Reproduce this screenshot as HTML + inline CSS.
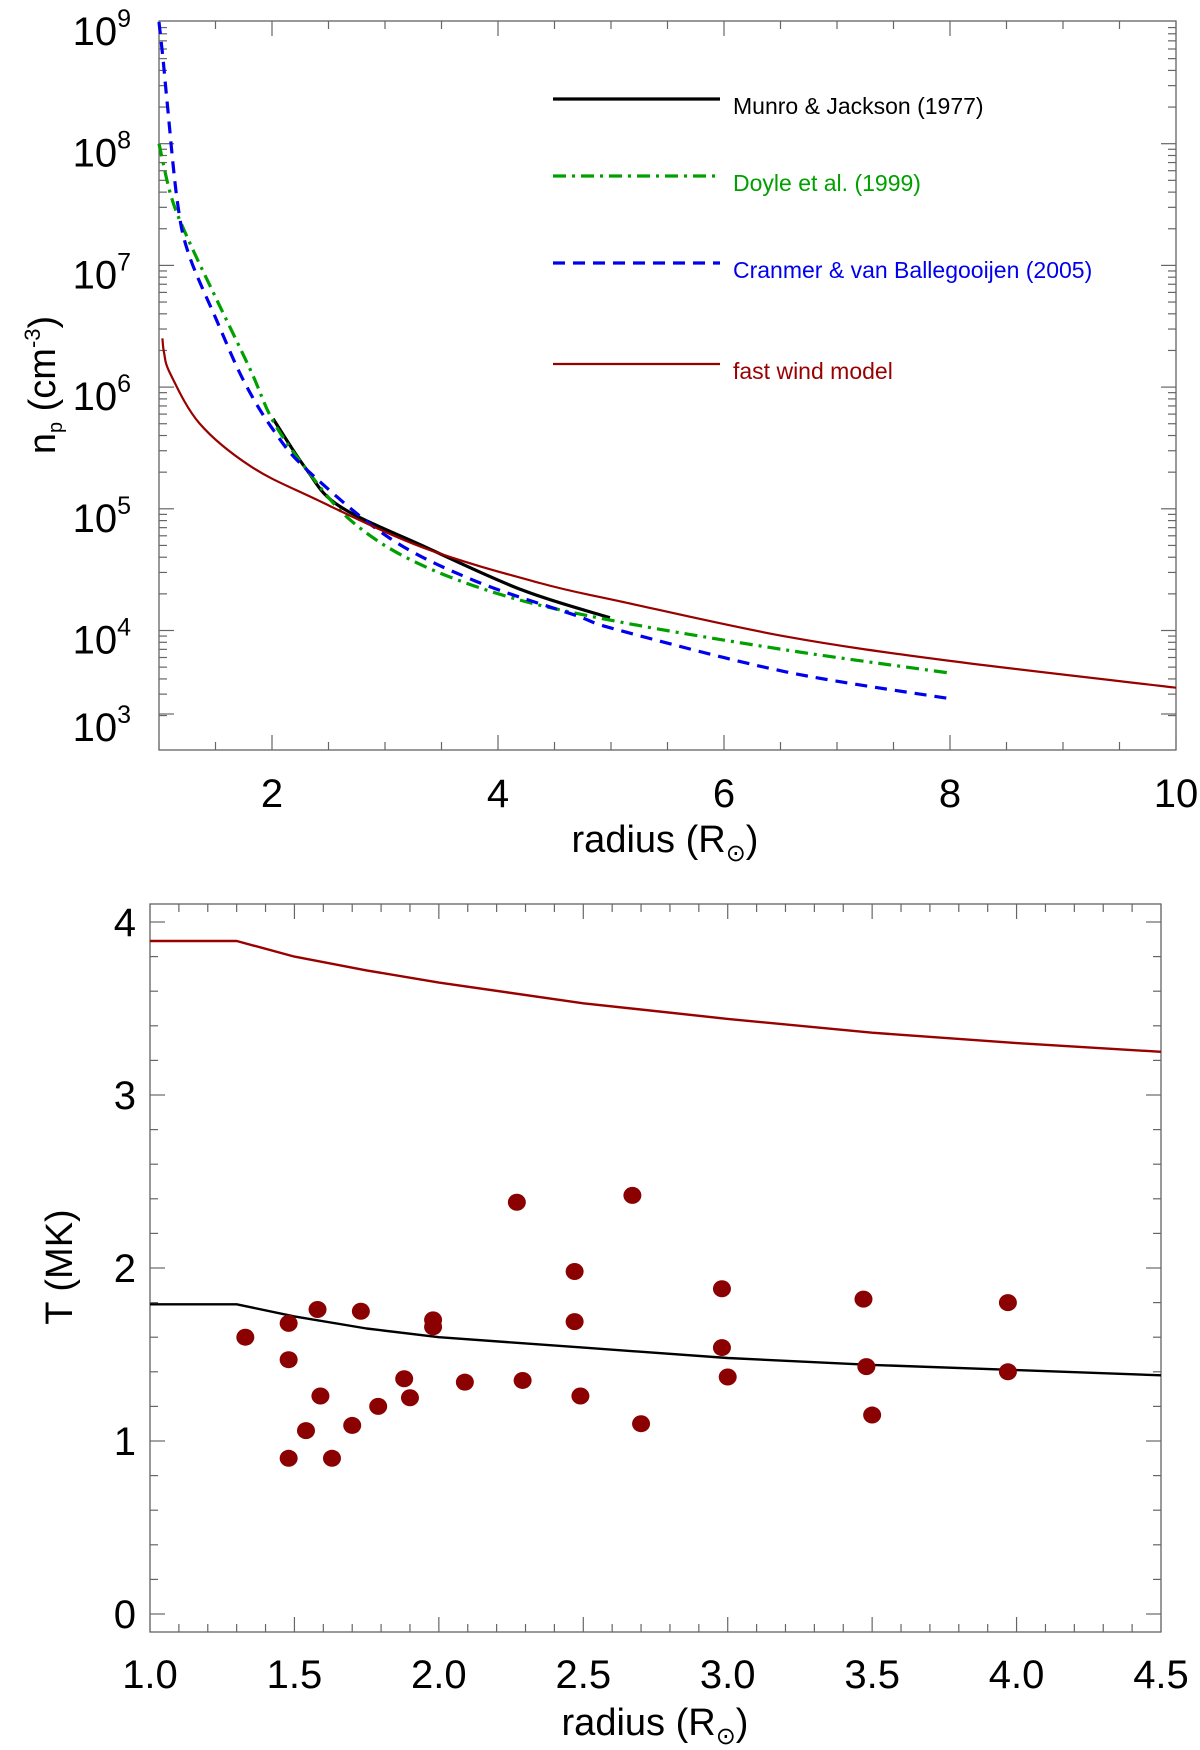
<!DOCTYPE html>
<html><head><meta charset="utf-8">
<style>
html,body{margin:0;padding:0;background:#fff;}
svg{display:block;font-family:"Liberation Sans",sans-serif;}
</style></head>
<body>
<svg id="fig" width="1200" height="1750" viewBox="0 0 1200 1750" xmlns="http://www.w3.org/2000/svg">
<g id="topPanel"></g>
<g id="botPanel"></g>
</svg>
<script>
// ---------- Top panel data (radius, log10 density) ----------
const munroR = [2.01, 2.3, 2.6, 3.37, 4.22, 4.99];
const munroLogN = [5.74, 5.33, 5.02, 4.68, 4.33, 4.105];
const doyleR = [1.0, 1.11, 1.26, 1.51, 1.81, 2.01, 2.3, 2.69, 3.25, 4.08, 5.08, 6.55, 8.0];
const doyleLogN = [8.0, 7.56, 7.21, 6.72, 6.14, 5.72, 5.33, 4.91, 4.57, 4.28, 4.07, 3.84, 3.65];
const cranR = [1.0, 1.035, 1.07, 1.16, 1.26, 1.51, 1.75, 2.01, 2.31, 3.04, 3.79, 4.67, 5.08, 6.55, 8.0];
const cranLogN = [9.0, 8.7, 8.36, 7.54, 7.10, 6.55, 6.05, 5.65, 5.32, 4.76, 4.41, 4.13, 4.00, 3.66, 3.44];
const windR = [1.03, 1.045, 1.10, 1.36, 1.81, 2.36, 3.34, 4.37, 5.08, 6.55, 8.0, 10.0];
const windLogN = [6.40, 6.28, 6.11, 5.70, 5.35, 5.09, 4.68, 4.39, 4.24, 3.95, 3.75, 3.53];
const topXTicks = [2, 4, 6, 8, 10];
const topYTicks = [3, 4, 5, 6, 7, 8, 9];

// ---------- Bottom panel data ----------
const modelHotR = [1.0, 1.3, 1.5, 1.75, 2.0, 2.5, 3.0, 3.5, 4.0, 4.5];
const modelHotT = [3.89, 3.89, 3.80, 3.72, 3.65, 3.53, 3.44, 3.36, 3.30, 3.25];
const modelCoolR = [1.0, 1.3, 1.5, 1.75, 2.0, 2.5, 3.0, 3.5, 4.0, 4.5];
const modelCoolT = [1.79, 1.79, 1.72, 1.65, 1.60, 1.54, 1.48, 1.44, 1.41, 1.38];
const obsR = [1.33,1.48,1.48,1.48,1.58,1.59,1.54,1.63,1.70,1.73,1.79,1.88,1.90,1.98,1.98,2.09,2.27,2.29,2.47,2.47,2.49,2.67,2.70,2.98,2.98,3.00,3.47,3.48,3.50,3.97,3.97];
const obsT = [1.60,1.68,1.47,0.90,1.76,1.26,1.06,0.90,1.09,1.75,1.20,1.36,1.25,1.70,1.66,1.34,2.38,1.35,1.98,1.69,1.26,2.42,1.10,1.88,1.54,1.37,1.82,1.43,1.15,1.80,1.40];
const botXTicks = [1.0, 1.5, 2.0, 2.5, 3.0, 3.5, 4.0, 4.5];
const botYTicks = [0, 1, 2, 3, 4];

const NS = "http://www.w3.org/2000/svg";
function mk(parent, tag, attrs, text) {
  const e = document.createElementNS(NS, tag);
  for (const k in attrs) e.setAttribute(k, attrs[k]);
  if (text !== undefined) e.textContent = text;
  parent.appendChild(e);
  return e;
}
const topG = document.getElementById('topPanel');
const botG = document.getElementById('botPanel');

const T = {x0:159, x1:1176, y0:21, y1:750, xmin:1, xmax:10, yTop:9, decade:121.7, yTopPx:22};
const tx = r => T.x0 + (r - T.xmin) / (T.xmax - T.xmin) * (T.x1 - T.x0);
const ty = l => T.yTopPx + (T.yTop - l) * T.decade;
const B = {x0:150, x1:1161, y0:904, y1:1632, xmin:1, xmax:4.5, zeroPx:1614, unit:173};
const bx = r => B.x0 + (r - B.xmin) / (B.xmax - B.xmin) * (B.x1 - B.x0);
const by = t => B.zeroPx - t * B.unit;

function frame(g, A, name) {
  const f = mk(g, 'rect', {x:A.x0, y:A.y0, width:A.x1-A.x0, height:A.y1-A.y0, fill:'none', stroke:'#555', 'stroke-width':1.2});
  
  
}
function tick(g, x1, y1, x2, y2) { mk(g, 'line', {x1:x1, y1:y1, x2:x2, y2:y2, stroke:'#666', 'stroke-width':1.2}); }

function smoothPath(xs, ys, fx, fy) {
  const P = xs.map((r, i) => [fx(r), fy(ys[i])]);
  let d = 'M' + P[0][0].toFixed(1) + ' ' + P[0][1].toFixed(1);
  for (let i = 0; i < P.length - 1; i++) {
    const p0 = P[i - 1] || P[i], p1 = P[i], p2 = P[i + 1], p3 = P[i + 2] || P[i + 1];
    const c1 = [p1[0] + (p2[0] - p0[0]) / 6, p1[1] + (p2[1] - p0[1]) / 6];
    const c2 = [p2[0] - (p3[0] - p1[0]) / 6, p2[1] - (p3[1] - p1[1]) / 6];
    d += ' C' + c1[0].toFixed(1) + ' ' + c1[1].toFixed(1) + ' ' + c2[0].toFixed(1) + ' ' + c2[1].toFixed(1) + ' ' + p2[0].toFixed(1) + ' ' + p2[1].toFixed(1);
  }
  return d;
}
function linePath(xs, ys, fx, fy) {
  return xs.map((r, i) => (i ? 'L' : 'M') + fx(r).toFixed(1) + ' ' + fy(ys[i]).toFixed(1)).join(' ');
}

// ---- top panel ----
frame(topG, T, 'density-plot-frame');
const tTicks = mk(topG, 'g', {});


for (let i = 0; i <= 18; i++) {
  const v = 1 + i * 0.5;
  const len = (Math.abs(v % 2) < 1e-6) ? 15 : 8;
  tick(tTicks, tx(v), T.y1, tx(v), T.y1 - len);
  tick(tTicks, tx(v), T.y0, tx(v), T.y0 + len);
}
for (let d = 3; d <= 8; d++) {
  for (let m = 1; m <= 9; m++) {
    const l = d + Math.log10(m);
    let y = ty(l);
    if (y > T.y1 - 2) continue;
    const len = m === 1 ? 15 : 8;
    tick(tTicks, T.x0, y, T.x0 + len, y);
    tick(tTicks, T.x1, y, T.x1 - len, y);
  }
}
tick(tTicks, T.x0, 714, T.x0 + 15, 714);
tick(tTicks, T.x1, 714, T.x1 - 15, 714);
topXTicks.forEach(v => {
  const t = mk(topG, 'text', {x: tx(v), y: 807, 'font-size': 40, 'text-anchor': 'middle', fill:'#000'}, String(v));
  
  
});
topYTicks.forEach(v => {
  const y = Math.min(ty(v), 718);
  const t = mk(topG, 'text', {x: 131, y: y + 23, 'font-size': 40, 'text-anchor': 'end', fill:'#000'});
  
  
  mk(t, 'tspan', {}, '10');
  mk(t, 'tspan', {dy: -18, 'font-size': 25}, String(v));
});
const tyl = mk(topG, 'text', {transform:'translate(55,385) rotate(-90)', 'font-size':38, 'text-anchor':'middle', fill:'#000'});


mk(tyl, 'tspan', {}, 'n');
mk(tyl, 'tspan', {'font-size':20, dy:7}, 'p');
mk(tyl, 'tspan', {dy:-7}, ' (cm');
mk(tyl, 'tspan', {'font-size':22, dy:-15}, '-3');
mk(tyl, 'tspan', {dy:15}, ')');
const txl = mk(topG, 'text', {x:665, y:852, 'font-size':38, 'text-anchor':'middle', fill:'#000'});


mk(txl, 'tspan', {}, 'radius (R');
mk(txl, 'tspan', {'font-size':24, dy:9}, '⊙');
mk(txl, 'tspan', {dy:-9}, ')');

const series = [
  {name:'munro-jackson-line', r:munroR, y:munroLogN, color:'#000', w:3.2, dash:null, label:'Munro & Jackson (1977)', ly:99},
  {name:'doyle-line', r:doyleR, y:doyleLogN, color:'#00a000', w:3.2, dash:'13 6 3 6', label:'Doyle et al. (1999)', ly:176},
  {name:'cranmer-line', r:cranR, y:cranLogN, color:'#0000ee', w:3.2, dash:'12 8', label:'Cranmer & van Ballegooijen (2005)', ly:263},
  {name:'fast-wind-model-line', r:windR, y:windLogN, color:'#990000', w:2.2, dash:null, label:'fast wind model', ly:364}
];
series.forEach(s => {
  const attrs = {d: smoothPath(s.r, s.y, tx, ty), fill:'none', stroke:s.color, 'stroke-width':s.w, 'stroke-linejoin':'round'};
  if (s.dash) attrs['stroke-dasharray'] = s.dash;
  const p = mk(topG, 'path', attrs);
  
  
  const lg = mk(topG, 'g', {});
  
  
  const la = {x1:553, x2:720, y1:s.ly, y2:s.ly, stroke:s.color, 'stroke-width':s.w};
  if (s.dash) la['stroke-dasharray'] = s.dash;
  mk(lg, 'line', la);
  mk(lg, 'text', {x:733, y:s.ly + 15, 'font-size':23, fill:s.color}, s.label);
});

// ---- bottom panel ----
frame(botG, B, 'temperature-plot-frame');
const bTicks = mk(botG, 'g', {});


for (let i = 0; i <= 35; i++) {
  const v = 1 + i * 0.1;
  const len = i % 5 === 0 ? 15 : 8;
  tick(bTicks, bx(v), B.y1, bx(v), B.y1 - len);
  tick(bTicks, bx(v), B.y0, bx(v), B.y0 + len);
}
for (let i = 0; i <= 20; i++) {
  const v = i * 0.2;
  const len = i % 5 === 0 ? 15 : 8;
  tick(bTicks, B.x0, by(v), B.x0 + len, by(v));
  tick(bTicks, B.x1, by(v), B.x1 - len, by(v));
}
botXTicks.forEach(v => {
  const t = mk(botG, 'text', {x:bx(v), y:1688, 'font-size':40, 'text-anchor':'middle', fill:'#000'}, v.toFixed(1));
  
  
});
botYTicks.forEach(v => {
  const t = mk(botG, 'text', {x:136, y:by(v) + 14, 'font-size':40, 'text-anchor':'end', fill:'#000'}, String(v));
  
  
});
const byl = mk(botG, 'text', {transform:'translate(72,1267) rotate(-90)', 'font-size':38, 'text-anchor':'middle', fill:'#000'}, 'T (MK)');


const bxl = mk(botG, 'text', {x:655, y:1735, 'font-size':38, 'text-anchor':'middle', fill:'#000'});


mk(bxl, 'tspan', {}, 'radius (R');
mk(bxl, 'tspan', {'font-size':24, dy:9}, '⊙');
mk(bxl, 'tspan', {dy:-9}, ')');

const hot = mk(botG, 'path', {d:linePath(modelHotR, modelHotT, bx, by), fill:'none', stroke:'#990000', 'stroke-width':2.4, 'stroke-linejoin':'round'});


const cool = mk(botG, 'path', {d:linePath(modelCoolR, modelCoolT, bx, by), fill:'none', stroke:'#000', 'stroke-width':2.4, 'stroke-linejoin':'round'});


obsR.forEach((r, i) => {
  const c = mk(botG, 'ellipse', {cx:bx(r), cy:by(obsT[i]), rx:9, ry:8.5, fill:'#8b0000'});
  
  
});
</script>
</body></html>
